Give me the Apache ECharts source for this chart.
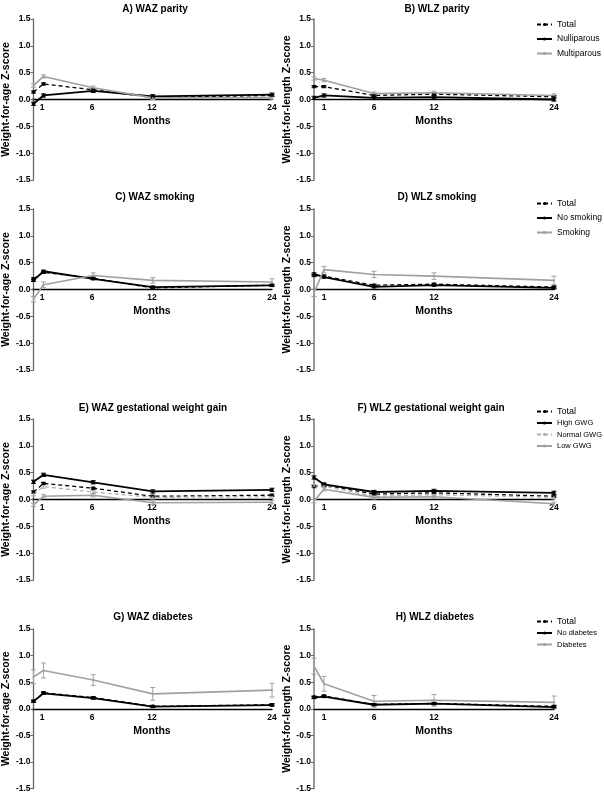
<!DOCTYPE html>
<html>
<head>
<meta charset="utf-8">
<script src="https://cdn.jsdelivr.net/npm/echarts@6/dist/echarts.min.js"></script>
<style>
  html, body { margin: 0; padding: 0; background: #fff; }
  #chart { width: 604px; height: 793px; }
</style>
</head>
<body>
<div id="chart"></div>
<script>
const months = [0, 1, 6, 12, 24];
const monthTicks = [1, 6, 12, 24];
const titles = ['A) WAZ parity', 'B) WLZ parity', 'C) WAZ smoking', 'D) WLZ smoking',
  'E) WAZ gestational weight gain', 'F) WLZ gestational weight gain', 'G) WAZ diabetes', 'H) WLZ diabetes'];
const yNames = ['Weight-for-age Z-score', 'Weight-for-length Z-score'];

// A / B parity
const wazParityTotal = [0.14, 0.29, 0.18, 0.04, 0.075];
const wazParityNulli = [-0.08, 0.075, 0.16, 0.06, 0.09];
const wazParityMulti = [0.26, 0.43, 0.22, 0.03, 0.035];
const wlzParityTotal = [0.24, 0.24, 0.075, 0.1, 0.05];
const wlzParityNulli = [0.03, 0.075, 0.03, 0.045, 0.0];
const wlzParityMulti = [0.39, 0.36, 0.11, 0.125, 0.075];
// C / D smoking
const wazSmokTotal = [0.2, 0.32, 0.21, 0.03, 0.08];
const wazSmokNo = [0.17, 0.34, 0.2, 0.045, 0.075];
const wazSmokYes = [-0.18, 0.09, 0.26, 0.17, 0.14];
const wlzSmokTotal = [0.26, 0.25, 0.08, 0.1, 0.045];
const wlzSmokNo = [0.29, 0.23, 0.05, 0.08, 0.03];
const wlzSmokYes = [-0.06, 0.37, 0.28, 0.25, 0.17];
// E / F gestational weight gain
const wazGwgTotal = [0.14, 0.3, 0.21, 0.06, 0.08];
const wazGwgHigh = [0.33, 0.46, 0.32, 0.15, 0.18];
const wazGwgNormal = [0.1, 0.24, 0.14, 0.04, 0.05];
const wazGwgLow = [-0.1, 0.06, 0.08, -0.06, -0.05];
const wlzGwgTotal = [0.24, 0.27, 0.1, 0.125, 0.06];
const wlzGwgHigh = [0.41, 0.28, 0.14, 0.16, 0.125];
const wlzGwgNormal = [0.25, 0.25, 0.06, 0.09, 0.04];
const wlzGwgLow = [-0.03, 0.19, 0.04, 0.05, -0.08];
// G / H diabetes
const wazDiabTotal = [0.14, 0.3, 0.21, 0.045, 0.075];
const wazDiabNo = [0.14, 0.29, 0.2, 0.04, 0.07];
const wazDiabYes = [0.6, 0.72, 0.54, 0.28, 0.35];
const wlzDiabTotal = [0.22, 0.24, 0.08, 0.1, 0.045];
const wlzDiabNo = [0.21, 0.23, 0.075, 0.095, 0.03];
const wlzDiabYes = [0.8, 0.47, 0.14, 0.16, 0.12];

// error bar half widths
const errSmall = [0.02, 0.02, 0.02, 0.02, 0.02];
const errMid = [0.03, 0.03, 0.03, 0.03, 0.03];
const errSmokWaz = [0.05, 0.05, 0.05, 0.05, 0.06];
const errSmokWlz = [0.07, 0.06, 0.06, 0.06, 0.08];
const errDiabWaz = [0.13, 0.14, 0.1, 0.12, 0.13];
const errDiabWlz = [0.15, 0.14, 0.11, 0.11, 0.12];

// [name, values, errors, style]
const panelSeries = [
  [['Total', wazParityTotal, errSmall, 'dash'], ['Nulliparous', wazParityNulli, errMid, 'solid'], ['Multiparous', wazParityMulti, errMid, 'gray']],
  [['Total', wlzParityTotal, errSmall, 'dash'], ['Nulliparous', wlzParityNulli, errMid, 'solid'], ['Multiparous', wlzParityMulti, errMid, 'gray']],
  [['Total', wazSmokTotal, errSmall, 'dash'], ['No smoking', wazSmokNo, errSmall, 'solid'], ['Smoking', wazSmokYes, errSmokWaz, 'gray']],
  [['Total', wlzSmokTotal, errSmall, 'dash'], ['No smoking', wlzSmokNo, errSmall, 'solid'], ['Smoking', wlzSmokYes, errSmokWlz, 'gray']],
  [['Total', wazGwgTotal, errSmall, 'dash'], ['High GWG', wazGwgHigh, errMid, 'solid'], ['Normal GWG', wazGwgNormal, errMid, 'grayDash'], ['Low GWG', wazGwgLow, errMid, 'gray']],
  [['Total', wlzGwgTotal, errSmall, 'dash'], ['High GWG', wlzGwgHigh, errMid, 'solid'], ['Normal GWG', wlzGwgNormal, errMid, 'grayDash'], ['Low GWG', wlzGwgLow, errMid, 'gray']],
  [['Total', wazDiabTotal, errSmall, 'dash'], ['No diabetes', wazDiabNo, errSmall, 'solid'], ['Diabetes', wazDiabYes, errDiabWaz, 'gray']],
  [['Total', wlzDiabTotal, errSmall, 'dash'], ['No diabetes', wlzDiabNo, errSmall, 'solid'], ['Diabetes', wlzDiabYes, errDiabWlz, 'gray']]
];

const styles = {
  dash: { color: '#000', type: [4, 3], width: 1.3 },
  solid: { color: '#000', type: 'solid', width: 1.8 },
  gray: { color: '#a0a0a0', type: 'solid', width: 1.6 },
  grayDash: { color: '#b0b0b0', type: [4, 3], width: 1.3 }
};

const font = 'Liberation Sans, Arial, sans-serif';
const gridTops = [19, 209, 419, 629];
const gridLefts = [32, 314];
const gridW = 240, gridH = 161;
const titleCx = [150, 432, 150, 432, 148, 426, 148, 430];
const titleCy = [5, 5, 193, 193, 404, 404, 613, 613];
const legendTops = [20, 199, 407, 617];
const legendSmall = [false, false, true, true];

const option = {
  animation: false,
  textStyle: { fontFamily: font },
  title: [], grid: [], xAxis: [], yAxis: [], series: [], legend: []
};

function errorBars(values, errs, color, idx) {
  return {
    type: 'custom', xAxisIndex: idx, yAxisIndex: idx, silent: true, z: 1,
    data: months.map((m, i) => [m, values[i] - errs[i], values[i] + errs[i]]),
    renderItem: function (params, api) {
      const lo = api.coord([api.value(0), api.value(1)]);
      const hi = api.coord([api.value(0), api.value(2)]);
      const w = 2.5;
      const st = { stroke: color, lineWidth: 1 };
      return {
        type: 'group', children: [
          { type: 'line', shape: { x1: lo[0], y1: lo[1], x2: hi[0], y2: hi[1] }, style: st },
          { type: 'line', shape: { x1: lo[0] - w, y1: lo[1], x2: lo[0] + w, y2: lo[1] }, style: st },
          { type: 'line', shape: { x1: hi[0] - w, y1: hi[1], x2: hi[0] + w, y2: hi[1] }, style: st }
        ]
      };
    }
  };
}

// data grids 0..7
panelSeries.forEach((list, idx) => {
  const row = Math.floor(idx / 2), col = idx % 2;
  option.title.push({
    text: titles[idx], left: titleCx[idx], top: titleCy[idx] - 6, textAlign: 'center',
    textStyle: { fontSize: 10, fontWeight: 'bold', color: '#000', fontFamily: font }
  });
  option.grid.push({ left: gridLefts[col], top: gridTops[row], width: gridW, height: gridH });
  option.xAxis.push({ type: 'value', gridIndex: idx, min: 0, max: 24, show: false });
  option.yAxis.push({
    type: 'value', gridIndex: idx, min: -1.5, max: 1.5, interval: 0.5,
    name: yNames[col], nameLocation: 'middle', nameGap: 19,
    nameTextStyle: { fontSize: 10.5, fontWeight: 'bold', color: '#000' },
    axisLine: { show: true, onZero: false, lineStyle: { color: col ? '#999' : '#666', width: col ? 2 : 1.3 } },
    axisTick: { show: true, length: 3, lineStyle: { color: '#666' } },
    axisLabel: { fontSize: 8.5, fontWeight: 'bold', color: '#000', margin: 3, formatter: v => v.toFixed(1) },
    splitLine: { show: false }
  });
  list.forEach(([name, values, errs, key]) => {
    const s = styles[key];
    option.series.push(errorBars(values, errs, s.color, idx));
    option.series.push({
      type: 'line', name: name, xAxisIndex: idx, yAxisIndex: idx, z: 2,
      data: months.map((m, i) => [m, values[i]]),
      symbol: 'circle', symbolSize: key === 'gray' || key === 'grayDash' ? 2 : 3.5,
      itemStyle: { color: s.color },
      lineStyle: { color: s.color, type: s.type, width: s.width }
    });
  });
  if (col === 1) {
    const small = legendSmall[row];
    option.legend.push({
      data: list.map(d => d[0]), orient: 'vertical', left: 536, top: legendTops[row],
      padding: 0, itemWidth: 15, itemHeight: 4, itemGap: small ? 2.5 : 5.5,
      selectedMode: false,
      formatter: n => n === 'Total' ? '{big|Total}' : n,
      textStyle: {
        fontSize: small ? 7.5 : 8.5, lineHeight: 9, color: '#000',
        rich: { big: { fontSize: 9, lineHeight: 9, color: '#000' } }
      }
    });
  }
});

// zero-line axes with month labels, grids 8..15
panelSeries.forEach((list, idx) => {
  const row = Math.floor(idx / 2), col = idx % 2;
  const gi = 8 + idx;
  option.grid.push({ left: gridLefts[col], top: gridTops[row] + gridH / 2 - 1, width: gridW, height: 1 });
  option.xAxis.push({
    type: 'value', gridIndex: gi, min: 0, max: 24, position: 'bottom',
    name: 'Months', nameLocation: 'middle', nameGap: 16,
    nameTextStyle: { fontSize: 10.5, fontWeight: 'bold', color: '#000' },
    axisLine: { onZero: false, lineStyle: { color: '#000', width: 1.3 } },
    axisTick: { show: false },
    axisLabel: { customValues: monthTicks, fontSize: 8.5, fontWeight: 'bold', color: '#000', margin: 4 },
    splitLine: { show: false }
  });
  option.yAxis.push({ type: 'value', gridIndex: gi, min: 0, max: 1, show: false });
});

const chart = echarts.init(document.getElementById('chart'));
chart.setOption(option);
</script>
</body>
</html>
